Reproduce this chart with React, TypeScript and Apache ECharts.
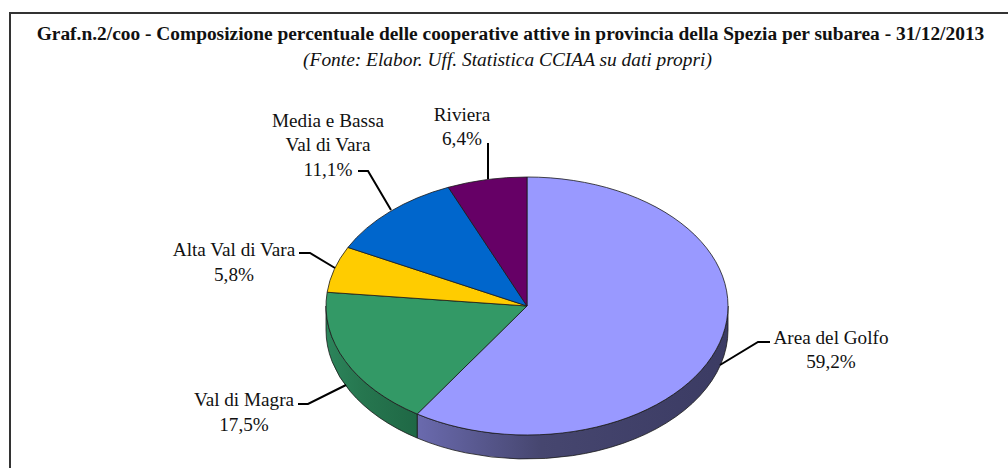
import React, { useEffect, useRef } from "react";
import * as echarts from "echarts";

const titleText = "Graf.n.2/coo - Composizione percentuale delle cooperative attive in provincia della Spezia per subarea - 31/12/2013";
const subtitleText = "(Fonte: Elabor. Uff. Statistica CCIAA su dati propri)";
const categories = ["Area del Golfo", "Val di Magra", "Alta Val di Vara", "Media e Bassa\nVal di Vara", "Riviera"];
const shares = [59.2, 17.5, 5.8, 11.1, 6.4];

const topColors = ["#9999ff", "#339966", "#ffcc00", "#0066cc", "#660066"];
const sideColors = [
  ["#6a6aae", "#46466f", "#3b3b63"],
  ["#2c855b", "#26764f", "#1f6845"],
  ["#b38f00", "#a58400", "#997a00"],
  ["#004a94", "#004488", "#003f7f"],
  ["#4a004a", "#440044", "#3f003f"],
];
const labelAnchors = [
  [831, 349.5],
  [244, 412],
  [234, 262],
  [328, 144.5],
  [462, 126.5],
];
const leaders = [
  [[720, 365], [758, 342], [770, 342]],
  [[346, 385], [308, 404], [298, 404]],
  [[335, 268], [310, 253], [299, 253]],
  [[391, 210], [368, 171], [358, 171]],
  [[488, 179], [488, 143]],
];

const CX = 527;
const CY = 306;
const RX = 201;
const RY = 129;
const DEPTH = 24;
const FONT = '"Liberation Serif", "Times New Roman", serif';

const total = shares.reduce((a, b) => a + b, 0);
const rad = (share: number) => (share / total) * Math.PI * 2;
const startOf = (i: number) => rad(shares.slice(0, i).reduce((a, b) => a + b, 0));
const px = (t: number) => CX + RX * Math.sin(t);
const py = (t: number, dy = 0) => CY - RY * Math.cos(t) + dy;

function renderTop(params: any, api: any) {
  const i = params.dataIndex;
  const t1 = startOf(i);
  const t2 = t1 + rad(api.value(0));
  const large = t2 - t1 > Math.PI ? 1 : 0;
  return {
    type: "path",
    shape: {
      pathData: `M${CX} ${CY}L${px(t1)} ${py(t1)}A${RX} ${RY} 0 ${large} 1 ${px(t2)} ${py(t2)}Z`,
    },
    style: { fill: topColors[i], stroke: "#1a1a1a", lineWidth: 0.8, lineJoin: "round" },
  };
}

function renderSide(params: any, api: any) {
  const i = params.dataIndex;
  const t1 = Math.max(startOf(i), Math.PI / 2);
  const t2 = Math.min(startOf(i) + rad(api.value(0)), (Math.PI * 3) / 2);
  if (t2 <= t1) return { type: "group", children: [] };
  const top = `M${px(t1)} ${py(t1)}A${RX} ${RY} 0 0 1 ${px(t2)} ${py(t2)}`;
  const bottom = `L${px(t2)} ${py(t2, DEPTH)}A${RX} ${RY} 0 0 0 ${px(t1)} ${py(t1, DEPTH)}Z`;
  const c = sideColors[i];
  return {
    type: "path",
    shape: { pathData: top + bottom },
    style: {
      fill: new echarts.graphic.LinearGradient(0, 0, 1, 0, [
        { offset: 0, color: c[0] },
        { offset: 0.4, color: c[1] },
        { offset: 1, color: c[2] },
      ]),
      stroke: "#1a1a1a",
      lineWidth: 0.8,
      lineJoin: "round",
    },
  };
}

function renderLabel(params: any, api: any) {
  const i = params.dataIndex;
  const pct = api.value(0).toFixed(1).replace(".", ",") + "%";
  return {
    type: "group",
    children: [
      {
        type: "polyline",
        shape: { points: leaders[i] },
        style: { stroke: "#000", lineWidth: 2, fill: "none" },
      },
      {
        type: "text",
        style: {
          text: `${categories[i]}\n${pct}`,
          x: labelAnchors[i][0],
          y: labelAnchors[i][1],
          align: "center",
          verticalAlign: "middle",
          fontFamily: FONT,
          fontSize: 19.2,
          lineHeight: 24.5,
          fill: "#111",
        },
      },
    ],
  };
}

const seriesData = shares.map((v, i) => ({ name: categories[i].replace("\n", " "), value: v }));

export default function App() {
  const ref = useRef<HTMLDivElement>(null);
  useEffect(() => {
    const chart = echarts.init(ref.current!, null, { renderer: "svg" });
    chart.setOption({
      animation: false,
      backgroundColor: "#fff",
      title: [
        {
          text: titleText,
          left: 505.5,
          top: 19.3,
          textAlign: "center",
          textStyle: { fontFamily: FONT, fontSize: 19.4, fontWeight: "bold", color: "#111" },
        },
        {
          text: subtitleText,
          left: 502.5,
          top: 45.3,
          textAlign: "center",
          textStyle: { fontFamily: FONT, fontSize: 19.4, fontWeight: "normal", fontStyle: "italic", color: "#111" },
        },
      ],
      graphic: [
        { type: "line", shape: { x1: 9, y1: 13, x2: 1008, y2: 13 }, style: { stroke: "#333", lineWidth: 2 } },
        { type: "line", shape: { x1: 10, y1: 12, x2: 10, y2: 468 }, style: { stroke: "#333", lineWidth: 2 } },
      ],
      series: [
        { type: "custom", coordinateSystem: "none", silent: true, z: 1, data: seriesData, renderItem: renderSide },
        { type: "custom", coordinateSystem: "none", silent: true, z: 2, data: seriesData, renderItem: renderTop },
        { type: "custom", coordinateSystem: "none", silent: true, z: 3, data: seriesData, renderItem: renderLabel },
      ],
    });
    return () => chart.dispose();
  }, []);
  return (
    <div
      ref={ref}
      style={{ position: "absolute", left: 0, top: 0, width: 1008, height: 468 }}
    />
  );
}
